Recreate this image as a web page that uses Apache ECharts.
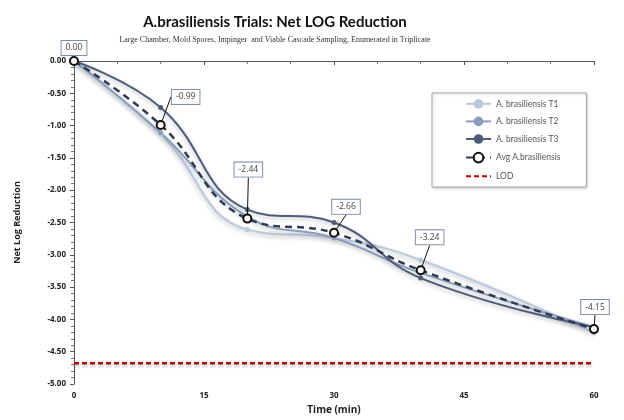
<!DOCTYPE html>
<html><head><meta charset="utf-8">
<script src="https://cdn.jsdelivr.net/npm/echarts@6/dist/echarts.min.js"></script>
<style>html,body{margin:0;padding:0;background:#fff}#c{width:624px;height:420px}</style>
</head><body><div id="c"></div>
<script>
const times = [0, 10, 20, 30, 40, 60];
const t1 = [0, -1.13, -2.61, -2.74, -3.08, -4.21];
const t2 = [0, -1.11, -2.41, -2.74, -3.28, -4.12];
const t3 = [0, -0.72, -2.30, -2.50, -3.36, -4.12];
const avg = [0, -0.99, -2.44, -2.66, -3.24, -4.15];
const lodValue = -4.68;
const xTicks = [0, 15, 30, 45, 60];
const labelShift = [[0,-13],[25,-28],[1,-49],[12,-26],[9,-33],[1,-22]];

const pairs = arr => times.map((t,i)=>[t, arr[i]]);
const trialStyle = (name, color, data) => ({
  name, type:'line', data: pairs(data), smooth:0.45, symbol:'circle', symbolSize:5,
  itemStyle:{color}, z:2,
  lineStyle:{color, width:2, shadowColor:'rgba(60,70,90,0.35)', shadowBlur:4, shadowOffsetY:2}
});

const chart = echarts.init(document.getElementById('c'));
chart.setOption({
  animation:false,
  title:[{text:'A.brasiliensis Trials: Net LOG Reduction', left:270, top:10, textAlign:'center',
    textStyle:{fontFamily:'Lato', fontWeight:'bold', fontSize:15, color:'#111'}},
    {text:'Large Chamber, Mold Spores, Impinger  and Viable Cascade Sampling, Enumerated in Triplicate', left:270, top:31, textAlign:'center',
    textStyle:{fontFamily:'Liberation Serif', fontWeight:'normal', fontSize:8, color:'#333'}}],
  grid:{left:74, right:30, top:61, bottom:36},
  legend:{orient:'vertical', left:432, top:93, backgroundColor:'#fff',
    borderColor:'#a6a6a6', borderWidth:1, padding:[6,26,6,33], itemGap:8, itemWidth:25, itemHeight:12,
    shadowColor:'rgba(0,0,0,0.2)', shadowBlur:3, shadowOffsetX:1, shadowOffsetY:1,
    textStyle:{fontFamily:'Lato', fontSize:8.5, color:'#555'},
    data:['A. brasiliensis T1','A. brasiliensis T2','A. brasiliensis T3','Avg A.brasiliensis',
      {name:'LOD', itemStyle:{opacity:0}}]},
  xAxis:{type:'value', min:0, max:60, interval:15, name:'Time (min)', nameLocation:'middle', nameGap:20,
    nameTextStyle:{fontFamily:'Open Sans', fontWeight:'bold', fontSize:10, color:'#222'},
    axisLine:{lineStyle:{color:'#555'}}, axisTick:{show:true, length:4, lineStyle:{color:'#555'}},
    minorTick:{show:true, splitNumber:3, length:3, lineStyle:{color:'#777'}},
    axisLabel:{fontFamily:'Open Sans', fontWeight:'bold', fontSize:8, color:'#222', margin:8,
      formatter:v=> xTicks.includes(v)? String(v):''},
    splitLine:{show:false}},
  yAxis:{type:'value', min:-5, max:0, interval:0.5, name:'Net Log Reduction', nameLocation:'middle', nameGap:52, nameRotate:90,
    nameTextStyle:{fontFamily:'Open Sans', fontWeight:'bold', fontSize:9, color:'#222'},
    axisLine:{show:true, lineStyle:{color:'#555'}}, axisTick:{show:true, length:4, lineStyle:{color:'#555'}},
    minorTick:{show:true, splitNumber:5, length:3, lineStyle:{color:'#777'}},
    axisLabel:{fontFamily:'Open Sans', fontWeight:'bold', fontSize:8, color:'#222', margin:8, formatter:v=>v.toFixed(2)},
    splitLine:{show:false}},
  series:[
    trialStyle('A. brasiliensis T1', '#b9c8dc', t1),
    trialStyle('A. brasiliensis T2', '#8a9dba', t2),
    trialStyle('A. brasiliensis T3', '#4d5d78', t3),
    {name:'Avg A.brasiliensis', type:'line', data:pairs(avg), smooth:0.45, symbol:'circle', symbolSize:8, z:5,
      itemStyle:{color:'#fff', borderColor:'#111', borderWidth:2},
      lineStyle:{color:'#2e3b52', width:2.5, type:[7,5]},
      label:{show:true, position:'inside', formatter:p=>p.value[1].toFixed(2),
        fontFamily:'Open Sans', fontSize:8.5, color:'#444', backgroundColor:'#fff',
        borderColor:'#7f8fa6', borderWidth:1, padding:[3,4,2,4]},
      labelLayout:p=>({dx:labelShift[p.dataIndex][0], dy:labelShift[p.dataIndex][1]}),
      labelLine:{show:true, length2:0, lineStyle:{color:'#111', width:1}}
    },
    {name:'LOD', type:'line', data:[[0,lodValue],[60,lodValue]], symbol:'none', z:1,
      itemStyle:{color:'#c00000'},
      lineStyle:{color:'#c00000', width:2.5, type:[5,3], shadowColor:'rgba(0,0,0,0.25)', shadowBlur:3, shadowOffsetY:2}}
  ]
});
</script></body></html>
